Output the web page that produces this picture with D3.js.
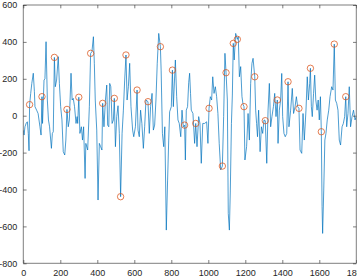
<!DOCTYPE html>
<html>
<head>
<meta charset="utf-8">
<script src="https://cdn.jsdelivr.net/npm/d3@7"></script>
<style>
html,body{margin:0;padding:0;background:#fff;overflow:hidden;}
svg{display:block;}
text{font-family:"Liberation Sans",Arial,Helvetica,sans-serif;font-size:9px;fill:#262626;}
</style>
</head>
<body>
<svg id="chart" width="357" height="278"></svg>
<script>
// Signal samples (x position, value)
const sampleX = [1,4,9,16,22,27,31,34,40,46,54,60,63,72,80,90,96,101,104,112,117,123,130,136,142,152,157,162,168,173,180,189,195,202,209,216,224,230,236,243,249,258,264,270,277,285,291,294,300,306,314,320,326,334,338,348,357,364,371,379,384,389,397,404,411,418,425,429,436,444,451,456,462,467,473,480,487,492,498,505,512,519,526,534,541,548,555,561,568,575,582,591,597,606,615,620,627,634,641,649,656,663,674,681,688,696,703,710,717,724,732,741,745,752,759,765,773,780,786,791,800,806,811,822,829,836,843,851,858,865,872,876,881,888,894,899,904,908,917,926,932,939,948,955,962,970,980,991,998,1004,1011,1018,1024,1031,1038,1045,1052,1059,1067,1076,1083,1090,1096,1103,1108,1114,1119,1125,1130,1135,1140,1148,1157,1162,1168,1175,1182,1188,1193,1198,1207,1215,1222,1229,1236,1242,1251,1256,1261,1266,1272,1280,1287,1294,1301,1308,1316,1323,1330,1337,1344,1352,1359,1366,1373,1377,1384,1391,1397,1402,1409,1416,1424,1431,1436,1445,1454,1461,1469,1476,1483,1490,1496,1505,1512,1519,1528,1535,1541,1548,1552,1557,1562,1569,1575,1581,1588,1594,1600,1606,1611,1615,1618,1624,1630,1636,1643,1651,1658,1667,1674,1681,1687,1694,1701,1708,1715,1723,1730,1737,1743,1748,1755,1762,1769,1777,1785,1793,1800];
const sampleY = [-80,-105,-60,-40,-33,-96,-190,60,120,175,230,130,49,30,12,-60,-105,103,-42,193,200,401,85,-23,-60,-177,-96,-87,316,157,193,320,175,49,-23,-195,-213,-132,34,-60,-23,230,85,94,49,-42,-5,-42,100,-96,-60,-132,-60,-340,-150,-186,49,338,347,428,284,85,-78,-457,-150,-168,-186,67,-60,85,166,-51,-60,175,157,-42,-23,94,-168,-5,54,-96,-439,-96,30,193,329,85,157,284,49,-78,-114,-60,139,-78,-114,30,-42,-177,-60,85,76,-96,49,121,-78,-51,85,284,446,374,247,-96,-168,-60,-620,-349,-132,21,49,247,49,302,103,-23,-42,-114,30,-60,-51,-240,30,49,180,230,121,30,12,-150,-42,-168,-5,-42,-258,-42,-42,-33,-150,40,103,85,211,121,157,103,12,-150,-294,-273,-5,338,233,85,-530,-620,-403,-42,112,392,302,446,414,428,211,266,103,60,49,-240,-168,12,-132,175,284,311,211,30,-42,-114,30,-195,-60,-96,-23,-27,-258,30,175,-60,-5,49,121,-5,85,-150,30,85,229,-5,-96,-114,-96,184,-60,30,148,12,49,103,49,40,-186,-204,12,-132,30,211,85,175,257,49,-5,121,220,85,30,85,-23,103,-87,-493,-638,-403,-132,-96,-23,30,103,157,139,388,85,67,30,-132,-159,-60,-42,-5,103,-60,12,157,-60,-5,30,-23,-5];

// Highlighted points (circles)
const markerX = [34,101,168,236,300,364,429,492,526,555,615,674,741,806,872,932,1004,1076,1096,1135,1157,1193,1251,1308,1373,1431,1490,1552,1611,1681,1743];
const markerY = [60,103,316,34,100,338,67,94,-439,329,139,76,374,247,-51,-42,40,-273,233,392,414,49,211,-27,85,184,40,257,-87,388,103];

// Axis ticks
const xTicks = [0,200,400,600,800,1000,1200,1400,1600,1800];
const yTicks = [-800,-600,-400,-200,0,200,400,600];

(function(){
const svg = d3.select("#chart");
const L = 23.3, R = 356.3, T = 5, B = 263.3;
const x = d3.scaleLinear().domain([0,1800]).range([L,R]);
const y = d3.scaleLinear().domain([-800,600]).range([B,T]);

const axisColor = "#262626";
const tl = 3.3;
const fmt = d => String(d);

svg.append("defs").append("clipPath").attr("id","clip")
  .append("rect").attr("x",L).attr("y",T).attr("width",R-L).attr("height",B-T);

const series = sampleX.map((v,i)=>[v, sampleY[i]]);
const line = d3.line().x(d=>x(d[0])).y(d=>y(d[1]));

const g = svg.append("g").attr("clip-path","url(#clip)");
g.append("path").datum(series)
  .attr("d", line)
  .attr("fill","none")
  .attr("stroke","#0072BD")
  .attr("stroke-width",0.7)
  .attr("stroke-linejoin","round");

svg.append("g").selectAll("circle")
  .data(markerX.map((v,i)=>[v, markerY[i]]))
  .join("circle")
  .attr("cx",d=>x(d[0])).attr("cy",d=>y(d[1]))
  .attr("r",3.2)
  .attr("fill","none")
  .attr("stroke","#D95319")
  .attr("stroke-width",0.75);

const axB = d3.axisBottom(x).tickValues(xTicks).tickSize(-tl).tickPadding(6).tickFormat(fmt);
const axT = d3.axisTop(x).tickValues(xTicks).tickSize(-tl).tickFormat("");
const axL = d3.axisLeft(y).tickValues(yTicks).tickSize(-tl).tickPadding(6).tickFormat(fmt);
const axR = d3.axisRight(y).tickValues(yTicks).tickSize(-tl).tickFormat("");

function style(sel){
  sel.selectAll("path.domain").attr("stroke",axisColor).attr("stroke-width",0.6);
  sel.selectAll(".tick line").attr("stroke",axisColor).attr("stroke-width",0.6);
  sel.selectAll(".tick text").attr("fill",axisColor).style("font-size","9px")
    .style("font-family",'"Liberation Sans",Arial,Helvetica,sans-serif');
}
const gb = svg.append("g").attr("transform",`translate(0,${B})`).call(axB);
gb.select("path.domain").attr("d",`M${L},0H${R}`);
style(gb);
const gt = svg.append("g").attr("transform",`translate(0,${T})`).call(axT);
gt.select("path.domain").attr("d",`M${L},0H${R}`);
style(gt);
const gl = svg.append("g").attr("transform",`translate(${L},0)`).call(axL);
gl.select("path.domain").attr("d",`M0,${B}V${T}`);
style(gl);
const gr = svg.append("g").attr("transform",`translate(${R},0)`).call(axR);
gr.select("path.domain").attr("d",`M0,${B}V${T}`);
style(gr);
})();
</script>
</body>
</html>
